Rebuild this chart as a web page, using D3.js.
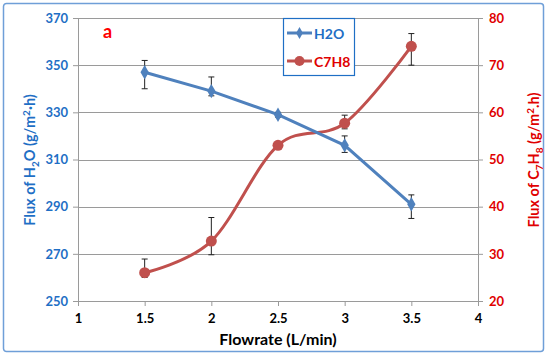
<!DOCTYPE html>
<html>
<head>
<meta charset="utf-8">
<script src="https://cdn.jsdelivr.net/npm/d3@7"></script>
<style>
  body { margin: 0; background: #fff; }
  text { font-family: Lato, "Open Sans", sans-serif; font-weight: bold; }
</style>
</head>
<body>
<div id="chart"></div>
<script>
(function() {

    // data
    var flowrate = [1.5, 2, 2.5, 3, 3.5];
    var h2o = [347, 339, 329, 316, 291];
    var h2oLow = [340, 337, 328, 313, 285];
    var h2oHigh = [352, 345, 330, 320, 295];
    var c7h8 = [26, 32.7, 53, 57.7, 74];
    var c7h8Low = [25, 29.8, 52.5, 56.5, 70];
    var c7h8High = [28.9, 37.7, 53.5, 59.4, 76.7];

    var xTicks = [1, 1.5, 2, 2.5, 3, 3.5, 4];
    var leftTicks = [250, 270, 290, 310, 330, 350, 370];
    var rightTicks = [20, 30, 40, 50, 60, 70, 80];

    var width = 550;
    var height = 356;
    var blue = "#4f81bd";
    var red = "#c0504d";
    var blueText = "#1f6fc5";
    var redText = "#e00000";

    var svg = d3.select("#chart").append("svg")
        .attr("width", width)
        .attr("height", height);

    // outer frame
    svg.append("rect")
        .attr("x", 3.5).attr("y", 3.5)
        .attr("width", 540).attr("height", 348)
        .attr("rx", 3)
        .attr("fill", "#fff")
        .attr("stroke", "#6f9fd8")
        .attr("stroke-width", 1.5);

    var x = d3.scaleLinear().domain([1, 4]).range([78, 478]);
    var yL = d3.scaleLinear().domain([250, 370]).range([301, 18]);
    var yR = d3.scaleLinear().domain([20, 80]).range([301, 18]);

    // gridlines
    svg.append("g").selectAll("line")
        .data(leftTicks)
        .enter().append("line")
        .attr("x1", x(1)).attr("x2", x(4))
        .attr("y1", function(d) { return Math.round(yL(d)) + 0.5; })
        .attr("y2", function(d) { return Math.round(yL(d)) + 0.5; })
        .attr("stroke", "#9a9a9a");

    var left = svg.append("g")
        .attr("transform", "translate(" + x(1) + ",0)")
        .call(d3.axisLeft(yL).tickValues(leftTicks).tickSize(5).tickPadding(5));
    left.selectAll("text").attr("fill", blueText).style("font-size", "13px");

    var right = svg.append("g")
        .attr("transform", "translate(" + x(4) + ",0)")
        .call(d3.axisRight(yR).tickValues(rightTicks).tickSize(5).tickPadding(6));
    right.selectAll("text").attr("fill", redText).style("font-size", "13px");

    var bottom = svg.append("g")
        .attr("transform", "translate(0," + yL(250) + ")")
        .call(d3.axisBottom(x).tickValues(xTicks).tickSize(5).tickPadding(8)
            .tickFormat(function(d) { return d; }));
    bottom.selectAll("text").attr("fill", "#000").style("font-size", "13px");

    svg.selectAll(".domain, .tick line").attr("stroke", "#9a9a9a");
    svg.selectAll(".domain").attr("d", function() {
        return d3.select(this).attr("d").replace(/[hv]-?5|[HV]-?5/g, "");
    });

    // error bars
    function errorBars(lo, hi, y) {
        var g = svg.append("g").attr("stroke", "#222").attr("stroke-width", 1);
        flowrate.forEach(function(f, i) {
            var cx = x(f);
            g.append("line").attr("x1", cx).attr("x2", cx)
                .attr("y1", y(lo[i])).attr("y2", y(hi[i]));
            [lo[i], hi[i]].forEach(function(v) {
                g.append("line").attr("x1", cx - 3).attr("x2", cx + 3)
                    .attr("y1", y(v)).attr("y2", y(v));
            });
        });
    }

    // C7H8 smooth line
    var lineR = d3.line()
        .x(function(d, i) { return x(flowrate[i]); })
        .y(function(d) { return yR(d); })
        .curve(d3.curveCardinal.tension(0));
    svg.append("path")
        .attr("d", lineR(c7h8))
        .attr("fill", "none")
        .attr("stroke", red)
        .attr("stroke-width", 3);

    // H2O line
    var lineL = d3.line()
        .x(function(d, i) { return x(flowrate[i]); })
        .y(function(d) { return yL(d); });
    svg.append("path")
        .attr("d", lineL(h2o))
        .attr("fill", "none")
        .attr("stroke", blue)
        .attr("stroke-width", 3);

    errorBars(c7h8Low, c7h8High, yR);
    errorBars(h2oLow, h2oHigh, yL);

    var diamond = d3.symbol().type(d3.symbolDiamond).size(60);
    svg.append("g").selectAll("path")
        .data(h2o)
        .enter().append("path")
        .attr("d", diamond)
        .attr("transform", function(d, i) { return "translate(" + x(flowrate[i]) + "," + yL(d) + ")"; })
        .attr("fill", blue);

    svg.append("g").selectAll("circle")
        .data(c7h8)
        .enter().append("circle")
        .attr("cx", function(d, i) { return x(flowrate[i]); })
        .attr("cy", function(d) { return yR(d); })
        .attr("r", 5.5)
        .attr("fill", red);

    // label "a"
    svg.append("text")
        .attr("x", 103).attr("y", 38)
        .attr("fill", "#ff0000")
        .style("font-size", "18px")
        .text("a");

    // legend
    var lg = svg.append("g").attr("transform", "translate(283,18)");
    lg.append("rect")
        .attr("x", 0.5).attr("y", 0.5)
        .attr("width", 71).attr("height", 57)
        .attr("fill", "#fff")
        .attr("stroke", "#1f6fc5")
        .attr("stroke-width", 1.2);
    lg.append("line").attr("x1", 4).attr("x2", 29).attr("y1", 15).attr("y2", 15)
        .attr("stroke", blue).attr("stroke-width", 3);
    lg.append("path").attr("d", d3.symbol().type(d3.symbolDiamond).size(40))
        .attr("transform", "translate(16.5,15)").attr("fill", blue);
    lg.append("text").attr("x", 31).attr("y", 20.5)
        .attr("fill", blueText).style("font-size", "14px")
        .text("H2O");
    lg.append("line").attr("x1", 4).attr("x2", 29).attr("y1", 43).attr("y2", 43)
        .attr("stroke", red).attr("stroke-width", 3);
    lg.append("circle").attr("cx", 16.5).attr("cy", 43).attr("r", 5).attr("fill", red);
    lg.append("text").attr("x", 31).attr("y", 48.5)
        .attr("fill", redText).style("font-size", "14px")
        .text("C7H8");

    // axis titles
    svg.append("text")
        .attr("x", (x(1) + x(4)) / 2).attr("y", 345)
        .attr("text-anchor", "middle")
        .attr("fill", "#000")
        .style("font-size", "16px")
        .text("Flowrate (L/min)");

    function title(tx, color, parts) {
        var t = svg.append("text")
            .attr("transform", "translate(" + tx + ",160) rotate(-90)")
            .attr("text-anchor", "middle")
            .attr("fill", color)
            .style("font-size", "14.5px");
        var shift = 0;
        parts.forEach(function(p) {
            var target = p[1] === "sub" ? 4 : p[1] === "sup" ? -5 : 0;
            var s = t.append("tspan").attr("dy", target - shift).text(p[0]);
            if (target !== 0) s.style("font-size", "10px");
            shift = target;
        });
    }
    title(35, blueText, [["Flux of H"], ["2", "sub"], ["O (g/m"], ["2", "sup"], ["\u00b7h)"]]);
    title(539, redText, [["Flux of C"], ["7", "sub"], ["H"], ["8", "sub"], [" (g/m"], ["2", "sup"], [".h)"]]);

})();
</script>
</body>
</html>
